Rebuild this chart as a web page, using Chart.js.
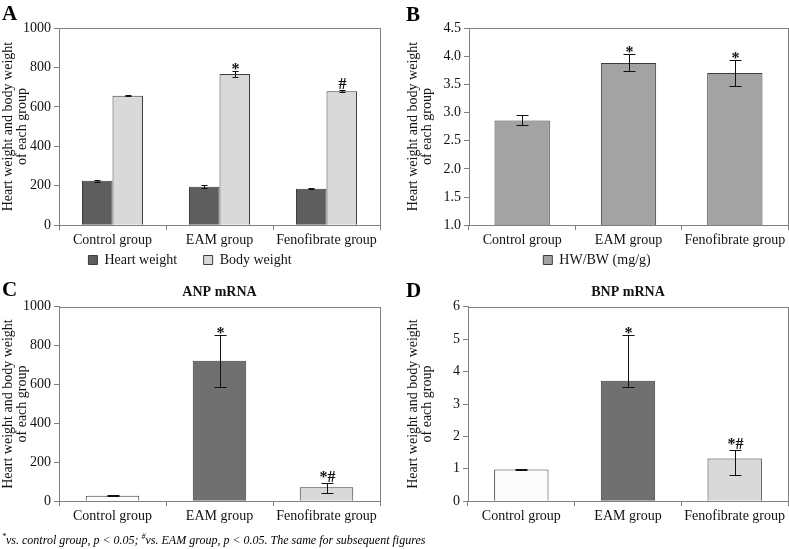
<!DOCTYPE html>
<html lang="en">
<head>
<meta charset="UTF-8">
<title>Heart weight and natriuretic peptides</title>
<script src="https://cdn.jsdelivr.net/npm/chart.js"></script>
<style>
    body {
        margin: 0;
        background: #fff;
        font-family: "Liberation Serif", "Times New Roman", serif;
    }
    #page {
        position: relative;
        width: 789px;
        height: 549px;
        overflow: hidden;
    }
    .panel {
        position: absolute;
    }
    .letter {
        position: absolute;
        font-weight: bold;
        font-size: 21px;
        line-height: 1;
        z-index: 2;
    }
    .note {
        position: absolute;
        left: 2px;
        top: 532px;
        font-style: italic;
        font-size: 12px;
        white-space: nowrap;
        z-index: 2;
    }
    .note sup { font-size: 8px; }
</style>
</head>
<body>
<div id="page">
    <div class="panel" style="left:0;top:0;width:390px;height:278px"><canvas id="chartA"></canvas></div>
    <div class="panel" style="left:390px;top:0;width:399px;height:278px"><canvas id="chartB"></canvas></div>
    <div class="panel" style="left:0;top:275px;width:390px;height:274px"><canvas id="chartC"></canvas></div>
    <div class="panel" style="left:390px;top:275px;width:399px;height:274px"><canvas id="chartD"></canvas></div>

    <div class="letter" style="left:2px;top:3px">A</div>
    <div class="letter" style="left:406px;top:4px">B</div>
    <div class="letter" style="left:2px;top:279px">C</div>
    <div class="letter" style="left:406px;top:280px">D</div>

    <div class="note"><sup>*</sup>vs. control group, p &lt; 0.05; <sup>#</sup>vs. EAM group, p &lt; 0.05. The same for subsequent figures</div>
</div>

<script>
// groups on the x axis
const groups = ['Control group', 'EAM group', 'Fenofibrate group'];
const yTitle = ['Heart weight and body weight', 'of each group'];

// A: heart weight and body weight
const heartWeight = [226, 195, 185];
const heartErr = [5, 8, 3];
const bodyWeight = [657, 767, 679];
const bodyErr = [4, 13, 5];
const bodyMarks = ['', '*', '#'];

// B: HW/BW ratio
const hwbw = [2.86, 3.88, 3.70];
const hwbwErr = [0.09, 0.15, 0.23];
const hwbwMarks = ['', '*', '*'];

// C: ANP mRNA
const anp = [28, 722, 72];
const anpErrUp = [3, 133, 22];
const anpErrDown = [3, 133, 28];
const anpMarks = ['', '*', '*#'];

// D: BNP mRNA
const bnp = [0.98, 3.72, 1.32];
const bnpErrUp = [0.02, 1.40, 0.27];
const bnpErrDown = [0.02, 0.20, 0.51];
const bnpMarks = ['', '*', '*#'];

// y axis ranges / tick steps
const yA = { min: 0, max: 1000, step: 200 };
const yB = { min: 1, max: 4.5, step: 0.5 };
const yC = { min: 0, max: 1000, step: 200 };
const yD = { min: 0, max: 6, step: 1 };

const axisGrey = '#808080';
const barEdge = '#3c3c3c';

Chart.defaults.font.family = '"Liberation Serif", "Times New Roman", serif';
Chart.defaults.font.size = 14;
Chart.defaults.color = '#111';
Chart.defaults.animation = false;

// error bars + significance marks, read from dataset.errUp / errDown / marks
const errorBars = {
    id: 'errorBars',
    afterDatasetsDraw(chart, args, opts) {
        const ctx = chart.ctx;
        const ys = chart.scales.y;
        const cap = opts.cap || 5;
        chart.data.datasets.forEach((ds, i) => {
            const meta = chart.getDatasetMeta(i);
            meta.data.forEach((bar, j) => {
                const v = ds.data[j];
                const up = ds.errUp ? ds.errUp[j] : 0;
                const dn = ds.errDown ? ds.errDown[j] : 0;
                const x = Math.round(bar.x) + 0.5;
                const yTop = Math.round(ys.getPixelForValue(v + up)) + 0.5;
                const yBot = Math.round(ys.getPixelForValue(v - dn)) + 0.5;
                ctx.save();
                ctx.strokeStyle = '#111';
                ctx.lineWidth = 1;
                ctx.beginPath();
                ctx.moveTo(x, yTop); ctx.lineTo(x, yBot);
                ctx.moveTo(x - cap, yTop); ctx.lineTo(x + cap, yTop);
                ctx.moveTo(x - cap, yBot); ctx.lineTo(x + cap, yBot);
                ctx.stroke();
                const mark = ds.marks && ds.marks[j];
                if (mark) {
                    ctx.fillStyle = '#111';
                    ctx.font = 'bold 16px "Liberation Serif", serif';
                    ctx.textAlign = 'center';
                    ctx.textBaseline = 'alphabetic';
                    const m = ctx.measureText(mark);
                    // sit the glyphs a couple of pixels above the cap
                    ctx.fillText(mark, x, yTop - 2 - m.actualBoundingBoxDescent);
                }
                ctx.restore();
            });
        });
    }
};

// box round the plot area
const frame = {
    id: 'frame',
    afterDraw(chart) {
        const a = chart.chartArea;
        const ctx = chart.ctx;
        ctx.save();
        ctx.strokeStyle = axisGrey;
        ctx.lineWidth = 1;
        ctx.strokeRect(Math.round(a.left) + 0.5, Math.round(a.top) + 0.5,
            Math.round(a.right - a.left), Math.round(a.bottom - a.top));
        ctx.restore();
    }
};

// legend entries with trailing blanks so the items sit apart like the original
function spacedLabels(chart) {
    const items = Chart.defaults.plugins.legend.labels.generateLabels(chart);
    items.forEach((it, k) => {
        if (k < items.length - 1) it.text = it.text + '\u00a0\u00a0\u00a0\u00a0\u00a0\u00a0\u00a0';
        it.lineWidth = 1;
    });
    return items;
}

function makeChart(id, datasets, range, opt) {
    return new Chart(document.getElementById(id), {
        type: 'bar',
        data: { labels: groups, datasets: datasets },
        options: {
            responsive: true,
            maintainAspectRatio: false,
            layout: { padding: opt.padding },
            datasets: { bar: { categoryPercentage: opt.catPct, barPercentage: 1.0, borderWidth: 1, borderColor: barEdge } },
            plugins: {
                legend: {
                    display: !!opt.legend,
                    position: 'bottom',
                    labels: { boxWidth: 9, boxHeight: 9, padding: 2, color: '#111', generateLabels: spacedLabels }
                },
                title: {
                    display: !!opt.title,
                    text: opt.title,
                    fullSize: false,
                    font: { size: 14, weight: 'bold' },
                    color: '#111',
                    padding: { top: 9, bottom: 6 }
                },
                tooltip: { enabled: false },
                errorBars: { cap: opt.cap }
            },
            scales: {
                x: {
                    grid: { drawOnChartArea: false, tickLength: 5, color: axisGrey, offset: true },
                    border: { color: axisGrey },
                    ticks: { padding: 2, color: '#111', maxRotation: 0, minRotation: 0, autoSkip: false }
                },
                y: {
                    min: range.min,
                    max: range.max,
                    afterFit(scale) { scale.width = opt.axisW; },
                    grid: { drawOnChartArea: false, tickLength: 5, color: axisGrey },
                    border: { color: axisGrey },
                    ticks: {
                        stepSize: range.step,
                        padding: 3,
                        color: '#111',
                        callback: opt.fmt || (v => v)
                    },
                    title: {
                        display: true,
                        text: yTitle,
                        font: { size: 14, lineHeight: 1.0 },
                        color: '#111',
                        padding: { top: opt.titlePad, bottom: 0 }
                    }
                }
            }
        },
        plugins: [errorBars, frame]
    });
}

makeChart('chartA', [
    { label: 'Heart weight', data: heartWeight, errUp: heartErr, errDown: heartErr, backgroundColor: '#5e5e5e' },
    { label: 'Body weight', data: bodyWeight, errUp: bodyErr, errDown: bodyErr, marks: bodyMarks, backgroundColor: '#d9d9d9' }
], yA, { padding: { left: 0, right: 10, top: 28, bottom: 1 }, catPct: 0.57, axisW: 59, titlePad: 1, legend: true, cap: 3 });

makeChart('chartB', [
    { label: 'HW/BW (mg/g)', data: hwbw, errUp: hwbwErr, errDown: hwbwErr, marks: hwbwMarks, backgroundColor: '#a3a3a3' }
], yB, { padding: { left: 16, right: 1, top: 28, bottom: 1 }, catPct: 0.52, axisW: 63, titlePad: 0, legend: true, cap: 6,
    fmt: v => v.toFixed(1) });

makeChart('chartC', [
    { label: 'ANP mRNA', data: anp, errUp: anpErrUp, errDown: anpErrDown, marks: anpMarks,
      backgroundColor: ['#fcfcfc', '#707070', '#d9d9d9'] }
], yC, { padding: { left: 0, right: 10, top: 0, bottom: 22 }, catPct: 0.5, axisW: 59, titlePad: 1, title: 'ANP mRNA', cap: 6 });

makeChart('chartD', [
    { label: 'BNP mRNA', data: bnp, errUp: bnpErrUp, errDown: bnpErrDown, marks: bnpMarks,
      backgroundColor: ['#fcfcfc', '#707070', '#d9d9d9'] }
], yD, { padding: { left: 0, right: 1, top: 0, bottom: 22 }, catPct: 0.51, axisW: 78, titlePad: 16, title: 'BNP mRNA', cap: 6 });
</script>
</body>
</html>
